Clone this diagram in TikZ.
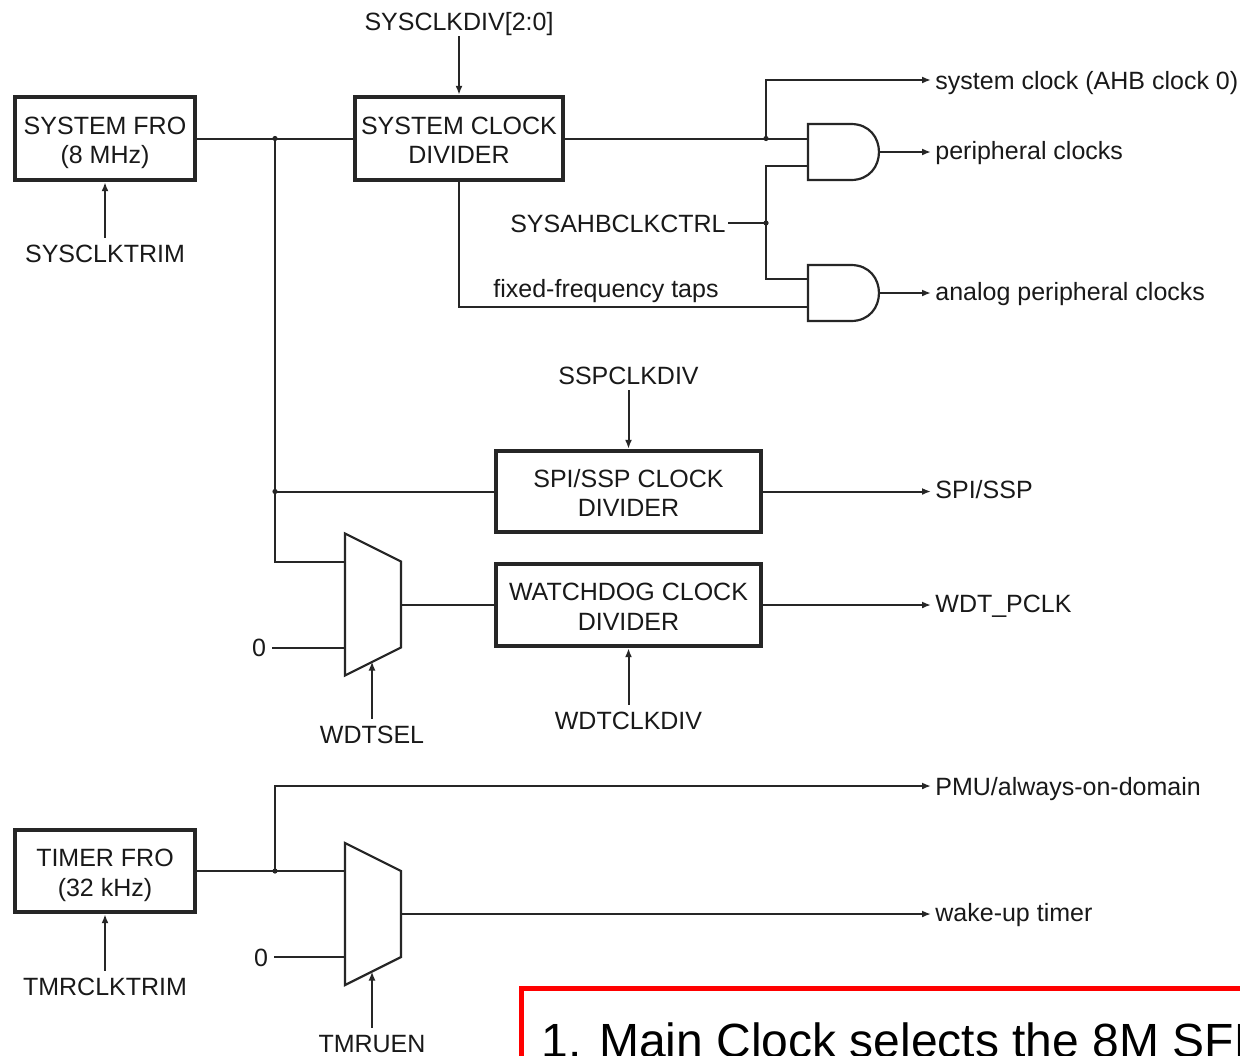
\documentclass[tikz,border=0pt]{standalone}
\usepackage{fontspec}
\setmainfont{Liberation Sans}
\usetikzlibrary{arrows.meta}
\newcommand{\twoline}[2]{\rule{0pt}{15.5pt}#1\\#2\rule[-5pt]{0pt}{5pt}}
\begin{document}
\begin{tikzpicture}[x=0.5pt,y=-0.5pt,
  wire/.style={line width=1pt, draw=black!85},
  arr/.style={wire,-{Latex[length=4.5pt,width=3.5pt]}},
  blk/.style={draw=black!85, line width=2.2pt, align=center, font=\fontsize{12.5}{14.75}\selectfont, inner sep=0pt, text=black!90},
  lbl/.style={font=\fontsize{12.5}{14}\selectfont, text height=9pt, text depth=0pt, inner sep=3pt, text=black!90},
  outlbl/.style={lbl, anchor=west, inner sep=2pt, yshift=1pt},
  jdot/.style={fill=black!85},
  gate/.style={line width=1.1pt, draw=black!85, fill=white}]
\clip (0,0) rectangle (1240,1055);
\fill[white] (0,0) rectangle (1240,1055);

% blocks
\node[blk, minimum width=90pt, minimum height=41.5pt] (sfro) at (105,138.5) {\twoline{SYSTEM FRO}{(8 MHz)}};
\node[blk, minimum width=104pt, minimum height=41.5pt] (scd) at (459,138.5) {\twoline{SYSTEM CLOCK}{DIVIDER}};
\node[blk, minimum width=132.5pt, minimum height=40.5pt] (spi) at (628.5,491.5) {\twoline{SPI/SSP CLOCK}{DIVIDER}};
\node[blk, minimum width=132.5pt, minimum height=41pt] (wdt) at (628.5,605) {\twoline{WATCHDOG CLOCK}{DIVIDER}};
\node[blk, minimum width=90pt, minimum height=41pt] (tfro) at (105,871) {\twoline{TIMER FRO}{(32 kHz)}};

% labels
\node[lbl] (sysclkdiv) at (459,21) {SYSCLKDIV[2:0]};
\node[lbl] (sysclktrim) at (105,253) {SYSCLKTRIM};
\node[lbl, anchor=east, inner sep=1pt] (ahb) at (728,223) {SYSAHBCLKCTRL};
\node[lbl] (taps) at (606,288) {fixed-frequency taps};
\node[lbl] (sspclkdiv) at (628.5,375) {SSPCLKDIV};
\node[lbl] (wdtclkdiv) at (628.5,720) {WDTCLKDIV};
\node[lbl] (wdtsel) at (372,734) {WDTSEL};
\node[lbl] (zero1) at (259,647.5) {0};
\node[lbl] (tmrclktrim) at (105,986) {TMRCLKTRIM};
\node[lbl] (tmruen) at (372,1043) {TMRUEN};
\node[lbl] (zero2) at (261,957) {0};

\node[outlbl] (sysout) at (931,82) {system clock (AHB clock 0)};
\node[outlbl] (periph) at (931,152) {peripheral clocks};
\node[outlbl] (analog) at (931,293) {analog peripheral clocks};
\node[outlbl] (spiout) at (931,491.5) {SPI/SSP};
\node[outlbl] (wdtout) at (931,605) {WDT\_PCLK};
\node[outlbl] (pmu) at (931,788) {PMU/always-on-domain};
\node[outlbl] (wake) at (931,914) {wake-up timer};

% junctions
\coordinate (j1) at (275,138.5);
\coordinate (j2) at (275,491.5);
\coordinate (j3) at (766,138.5);
\coordinate (j4) at (766,223);
\coordinate (j5) at (275,871);

% muxes
\draw[gate] (345,533.5) -- (401,561.5) -- (401,647.5) -- (345,675.5) -- cycle;
\coordinate (m1a) at (345,561.5);
\coordinate (m1b) at (345,647.5);
\coordinate (m1o) at (401,605);
\coordinate (m1s) at (372,661.5);
\draw[gate] (345,843) -- (401,871) -- (401,957) -- (345,985) -- cycle;
\coordinate (m2a) at (345,871);
\coordinate (m2b) at (345,957);
\coordinate (m2o) at (401,914);
\coordinate (m2s) at (372,971.5);

% AND gates
\draw[gate] (808,124) -- (851,124) .. controls (888.3,124) and (888.3,180) .. (851,180) -- (808,180) -- cycle;
\coordinate (g1a) at (808,138.5);
\coordinate (g1b) at (808,166);
\coordinate (g1o) at (879,152);
\draw[gate] (808,265) -- (851,265) .. controls (888.3,265) and (888.3,321) .. (851,321) -- (808,321) -- cycle;
\coordinate (g2a) at (808,279);
\coordinate (g2b) at (808,307);
\coordinate (g2o) at (879,293);

% wires
\draw[wire] (sfro.east) -- (scd.west);
\draw[wire] (j1) |- (m1a);
\draw[wire] (j2) -- (spi.west);
\draw[wire] (scd.east) -- (g1a);
\draw[arr] (j3) |- (sysout.west);
\draw[wire] (ahb.east) -- (j4);
\draw[wire] (g1b) -| (j4) |- (g2a);
\draw[wire] (scd.south) |- (g2b);
\draw[arr] (g1o) -- (g1o -| periph.west);
\draw[arr] (g2o) -- (g2o -| analog.west);
\draw[arr] (spi.east) -- (spi.east -| spiout.west);
\draw[wire] (m1o) -- (wdt.west);
\draw[arr] (wdt.east) -- (wdt.east -| wdtout.west);
\draw[wire] (zero1) -- (m1b);
\draw[arr] (wdtsel) -- (m1s);
\draw[arr] (wdtclkdiv) -- (wdt.south);
\draw[arr] (sspclkdiv) -- (spi.north);
\draw[arr] (sysclkdiv) -- (scd.north);
\draw[arr] (sysclktrim) -- (sfro.south);
\draw[wire] (tfro.east) -- (m2a);
\draw[arr] (j5) |- (pmu.west);
\draw[arr] (m2o) -- (m2o -| wake.west);
\draw[wire] (zero2) -- (m2b);
\draw[arr] (tmruen) -- (m2s);
\draw[arr] (tmrclktrim) -- (tfro.south);

\foreach \j in {j1,j2,j3,j4,j5} \fill[jdot] (\j) circle[radius=1.3pt];

% note box
\draw[red, line width=2.5pt] (521,1200) -- (521,988.5) -- (1400,988.5);
\node[anchor=base west, font=\fontsize{24}{28}\selectfont, inner sep=0pt] (note) at (541,1057) {1. Main Clock selects the 8M SFRO};
\end{tikzpicture}
\end{document}
